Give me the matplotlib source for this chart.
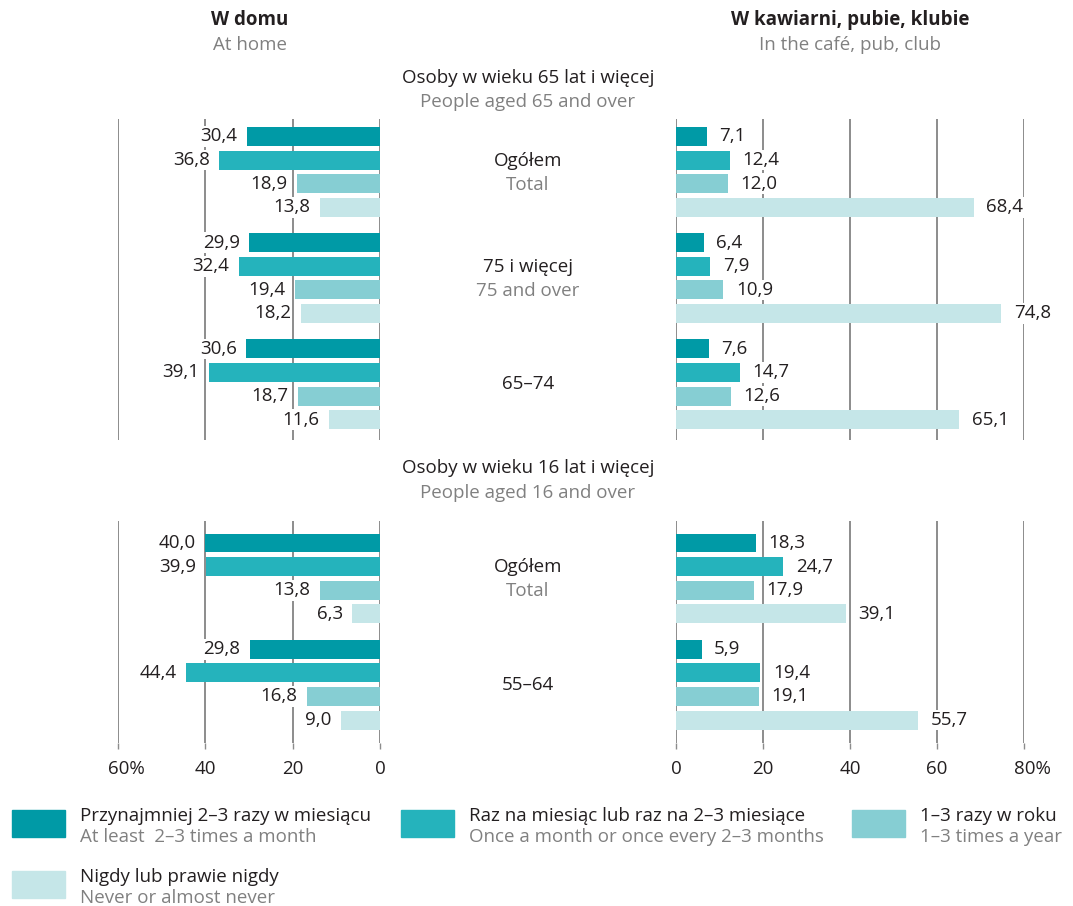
import matplotlib
matplotlib.use('Agg')
import matplotlib.pyplot as plt
from matplotlib.patches import Rectangle
from matplotlib.transforms import blended_transform_factory, ScaledTranslation

plt.rcParams['font.family'] = ['Open Sans', 'Noto Sans', 'DejaVu Sans']

# kategorie czestotliwosci
freq_pl = ['Przynajmniej 2–3 razy w miesiącu', 'Raz na miesiąc lub raz na 2–3 miesiące',
           '1–3 razy w roku', 'Nigdy lub prawie nigdy']
freq_en = ['At least  2–3 times a month', 'Once a month or once every 2–3 months',
           '1–3 times a year', 'Never or almost never']
colors = ['#009aa6', '#25b3bc', '#86ced3', '#c5e6e8']

# osoby 65+
groups_65_pl = ['Ogółem', '75 i więcej', '65–74']
groups_65_en = ['Total', '75 and over', '']
home_65 = [[30.4, 36.8, 18.9, 13.8],
           [29.9, 32.4, 19.4, 18.2],
           [30.6, 39.1, 18.7, 11.6]]
cafe_65 = [[7.1, 12.4, 12.0, 68.4],
           [6.4, 7.9, 10.9, 74.8],
           [7.6, 14.7, 12.6, 65.1]]

# osoby 16+
groups_16_pl = ['Ogółem', '55–64']
groups_16_en = ['Total', '']
home_16 = [[40.0, 39.9, 13.8, 6.3],
           [29.8, 44.4, 16.8, 9.0]]
cafe_16 = [[18.3, 24.7, 17.9, 39.1],
           [5.9, 19.4, 19.1, 55.7]]

home_ticks = [0, 20, 40, 60]
cafe_ticks = [0, 20, 40, 60, 80]

W, H = 1073, 906
DARK = '#231f20'
GRAY = '#808080'
GRID = '#8c8c8c'
FS = 13.5

fig = plt.figure(figsize=(W / 100, H / 100), dpi=100)


def px_axes(x0, x1, y0, y1):
    return fig.add_axes([x0 / W, 1 - y1 / H, (x1 - x0) / W, (y1 - y0) / H])


def fy(y):
    return 1 - y / H


def draw_panel(ax, data, side, ticks, ylim):
    box = dict(facecolor='white', edgecolor='none', pad=1.0)
    for g, row in enumerate(data):
        for j, v in enumerate(row):
            y = g * 4.5 + j
            ax.barh(y, v, height=0.8, color=colors[j], zorder=2)
            label = f'{v:.1f}'.replace('.', ',')
            if side == 'left':
                ax.annotate(label, (v, y), xytext=(-7, 0), textcoords='offset points',
                            ha='right', va='center', fontsize=FS, color=DARK,
                            bbox=box, zorder=3)
            else:
                ax.annotate(label, (v, y), xytext=(9, 0), textcoords='offset points',
                            ha='left', va='center', fontsize=FS, color=DARK,
                            bbox=box, zorder=3)
    for t in ticks:
        ax.axvline(t, color=GRID, lw=1.4, zorder=1)
    if side == 'left':
        ax.set_xlim(ticks[-1], 0)
    else:
        ax.set_xlim(0, ticks[-1])
    ax.set_ylim(*ylim)
    for s in ax.spines.values():
        s.set_visible(False)
    ax.set_yticks([])
    ax.set_xticks([])


def group_labels(ax, names_pl, names_en):
    tr = blended_transform_factory(fig.transFigure, ax.transData)
    for g, (pl, en) in enumerate(zip(names_pl, names_en)):
        c = g * 4.5 + 1.5
        if en:
            ax.text(528 / W, c - 0.47, pl, transform=tr, ha='center', va='center',
                    fontsize=FS, color=DARK)
            ax.text(528 / W, c + 0.55, en, transform=tr, ha='center', va='center',
                    fontsize=FS, color=GRAY)
        else:
            ax.text(528 / W, c, pl, transform=tr, ha='center', va='center',
                    fontsize=FS, color=DARK)


# gorna sekcja
ax1 = px_axes(118, 380, 119, 440)
ax2 = px_axes(676, 1024, 119, 440)
draw_panel(ax1, home_65, 'left', home_ticks, (12.86, -0.74))
draw_panel(ax2, cafe_65, 'right', cafe_ticks, (12.86, -0.74))
group_labels(ax1, groups_65_pl, groups_65_en)

# dolna sekcja
ax3 = px_axes(118, 380, 521, 743)
ax4 = px_axes(676, 1024, 521, 743)
draw_panel(ax3, home_16, 'left', home_ticks, (8.47, -0.93))
draw_panel(ax4, cafe_16, 'right', cafe_ticks, (8.47, -0.93))
group_labels(ax3, groups_16_pl, groups_16_en)

for ax, ticks in [(ax3, home_ticks), (ax4, cafe_ticks)]:
    ax.set_xticks(ticks)
    labels = [str(t) for t in ticks]
    labels[-1] = labels[-1] + '%'
    ax.set_xticklabels(labels)
    ax.tick_params(axis='x', length=4.5, width=1, color=GRID, pad=8,
                   labelsize=FS, labelcolor=DARK)
    last = ax.get_xticklabels()[-1]
    last.set_transform(last.get_transform() + ScaledTranslation(0.08, 0, fig.dpi_scale_trans))

# naglowki
fig.text(250 / W, fy(20), 'W domu', ha='center', va='center', fontsize=FS,
         fontweight='bold', color=DARK)
fig.text(250 / W, fy(45), 'At home', ha='center', va='center', fontsize=FS, color=GRAY)
fig.text(850 / W, fy(20), 'W kawiarni, pubie, klubie', ha='center', va='center',
         fontsize=FS, fontweight='bold', color=DARK)
fig.text(850 / W, fy(45), 'In the café, pub, club', ha='center', va='center',
         fontsize=FS, color=GRAY)

fig.text(528 / W, fy(78), 'Osoby w wieku 65 lat i więcej', ha='center', va='center',
         fontsize=FS, color=DARK)
fig.text(528 / W, fy(102), 'People aged 65 and over', ha='center', va='center',
         fontsize=FS, color=GRAY)
fig.text(528 / W, fy(468), 'Osoby w wieku 16 lat i więcej', ha='center', va='center',
         fontsize=FS, color=DARK)
fig.text(528 / W, fy(493), 'People aged 16 and over', ha='center', va='center',
         fontsize=FS, color=GRAY)

# legenda
legend_pos = [(12, 810), (401, 810), (852, 810), (12, 871)]
for (x, y), pl, en, c in zip(legend_pos, freq_pl, freq_en, colors):
    fig.patches.append(Rectangle((x / W, fy(y + 27)), 53 / W, 27 / H,
                                 transform=fig.transFigure, color=c))
    fig.text((x + 68) / W, fy(y + 6), pl, ha='left', va='center', fontsize=FS, color=DARK)
    fig.text((x + 68) / W, fy(y + 27), en, ha='left', va='center', fontsize=FS, color=GRAY)

fig.savefig('out.png', dpi=100)
